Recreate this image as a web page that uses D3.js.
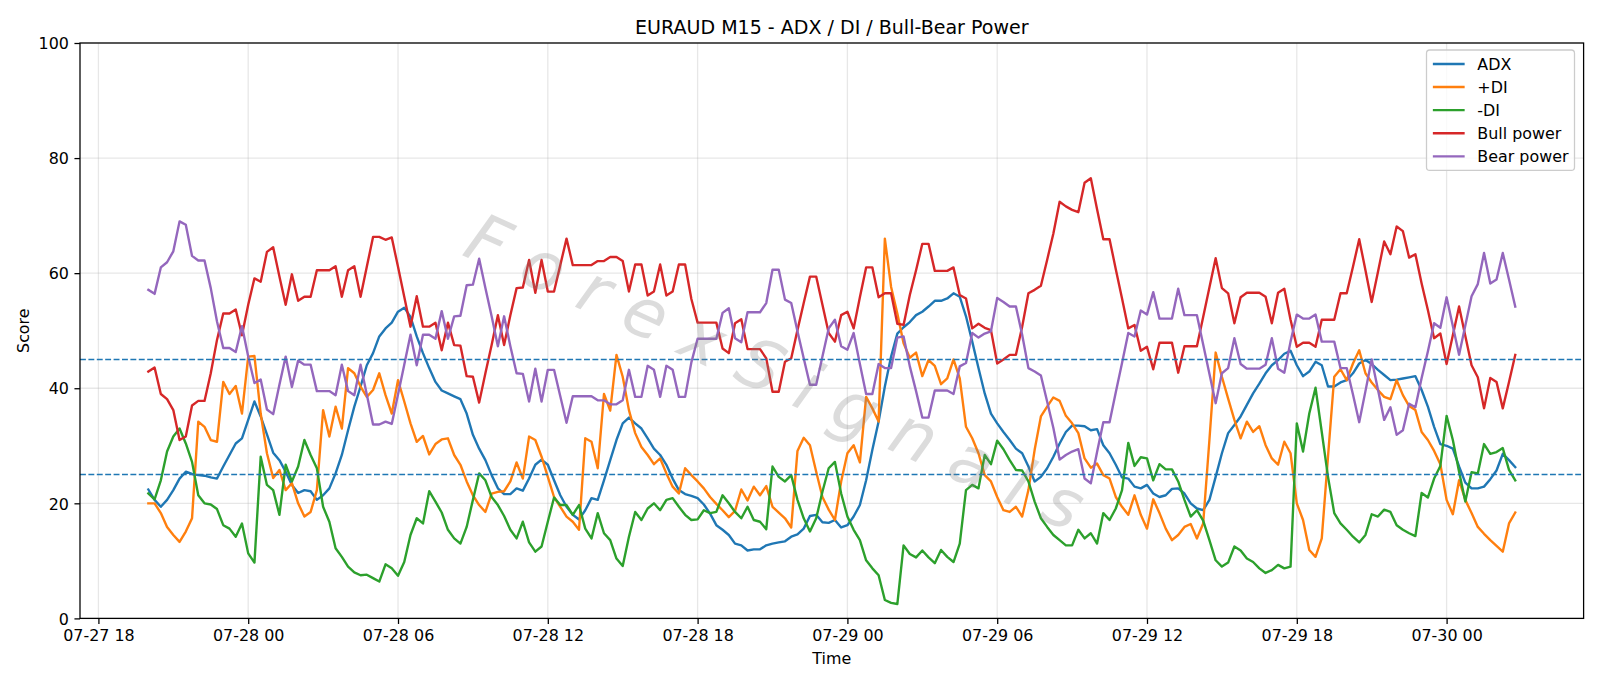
<!DOCTYPE html>
<html><head><meta charset="utf-8">
<script src="https://cdn.jsdelivr.net/npm/d3@7"></script>
<style>
body{margin:0;background:#fff}
svg{display:block}
text{font-family:"DejaVu Sans",sans-serif}
</style>
</head><body>
<svg id="chart" width="1600" height="686"></svg>
<script>
// ---------------- data ----------------
const titleText = "EURAUD M15 - ADX / DI / Bull-Bear Power";
const startTime = Date.UTC(2025, 6, 27, 20, 0);   // 07-27 20:00, 15-minute bars
const stepMinutes = 15;

const adx = [22.4,20.6,19.4,20.6,22.3,24.3,25.5,25.1,24.9,24.8,24.5,24.3,26.4,28.4,30.4,31.3,34.5,37.7,35.1,32.0,
28.8,27.5,25.5,23.2,21.8,22.3,22.1,20.6,21.4,22.6,25.2,28.4,32.7,36.8,40.3,44.0,46.1,49.0,50.4,51.4,
53.3,54.0,52.4,49.0,46.1,43.5,41.1,39.6,39.1,38.6,38.1,35.6,31.9,29.5,27.5,24.9,22.6,21.6,21.6,22.6,
22.2,24.3,26.7,27.6,26.7,24.0,21.4,19.4,18.0,17.2,18.8,20.9,20.6,24.0,27.5,31.0,33.9,34.9,33.9,33.0,
31.3,29.5,28.4,26.7,24.3,22.3,21.6,21.3,20.9,19.8,18.2,16.2,15.4,14.5,13.0,12.7,11.8,12.0,12.0,12.7,
13.0,13.2,13.4,14.2,14.6,15.6,17.8,18.0,16.7,16.6,17.1,15.8,16.2,17.7,19.7,24.0,29.3,34.2,40.3,45.5,
49.5,50.6,51.5,52.7,53.3,54.2,55.2,55.2,55.6,56.5,55.9,52.5,48.1,43.5,39.1,35.6,33.9,32.4,31.0,29.5,
28.7,26.4,23.8,24.6,26.1,28.1,30.4,32.4,33.5,33.5,33.4,32.7,32.9,30.1,28.7,26.7,24.5,24.3,22.9,22.6,
23.2,21.7,21.1,21.4,22.5,22.6,21.7,20.0,19.1,18.8,20.6,24.6,28.7,32.2,33.6,35.1,37.1,39.1,40.8,42.6,
44.0,44.9,46.0,46.5,44.0,42.1,42.9,44.6,44.0,40.3,40.3,41.0,41.4,42.6,44.3,44.9,44.2,43.2,42.3,41.4,
41.5,41.7,41.9,42.1,39.7,36.8,33.3,30.3,30.0,29.5,26.4,23.6,22.6,22.6,22.9,24.2,25.7,28.6,27.5,26.3];

const plusDI = [20.0,20.0,18.3,15.9,14.5,13.3,15.1,17.4,34.2,33.3,31.0,30.7,41.1,39.0,40.4,35.6,45.5,45.6,35.6,28.7,
24.4,25.8,22.3,23.5,20.0,17.7,18.5,22.3,36.2,31.6,36.8,33.0,43.5,42.6,40.3,38.5,39.7,42.6,38.8,35.6,
41.4,37.7,33.9,30.7,31.7,28.5,30.3,31.1,31.3,28.4,26.7,23.8,21.4,19.7,18.5,21.7,22.0,22.1,23.8,27.1,
24.3,31.6,31.0,28.1,24.6,21.1,19.4,17.7,16.8,15.4,31.3,30.7,26.1,39.0,36.1,45.8,42.0,36.2,32.2,29.8,
28.4,26.8,27.8,25.2,22.9,21.7,26.1,24.9,23.8,22.6,21.1,19.9,18.8,17.6,18.7,22.4,20.5,22.9,21.4,23.0,
19.4,18.4,17.4,15.8,29.1,31.4,30.1,25.5,21.1,18.9,17.1,23.8,28.7,30.1,27.1,38.5,36.5,34.2,66.0,57.6,
53.0,47.8,45.3,46.2,42.1,44.9,43.9,40.7,41.7,45.0,41.7,33.3,31.3,28.7,24.9,23.8,21.1,18.8,18.5,19.4,
17.7,22.3,29.3,35.1,36.8,38.4,37.8,35.2,33.9,32.2,27.8,26.2,26.9,24.9,24.3,21.1,19.4,18.0,21.4,18.0,
15.6,20.7,18.3,15.6,13.6,14.5,15.9,16.4,13.9,16.5,31.0,46.2,42.0,38.2,34.5,31.3,34.2,32.4,33.4,30.1,
27.8,26.7,30.7,28.7,20.0,17.1,11.9,10.7,13.9,28.1,42.0,43.3,41.4,44.3,46.6,42.6,41.0,39.7,38.5,38.1,
41.4,38.8,36.9,36.2,32.4,31.0,29.1,26.8,20.6,18.1,24.0,20.6,18.3,15.9,14.7,13.6,12.6,11.6,16.5,18.4];

const minusDI = [21.7,20.7,24.0,29.0,31.6,33.0,30.4,27.2,21.4,20.0,19.8,19.0,16.2,15.6,14.2,16.5,11.3,9.7,28.1,23.2,
22.3,18.0,26.7,23.8,26.4,31.0,28.4,26.1,19.4,16.8,12.2,10.7,9.0,8.0,7.5,7.6,7.0,6.4,9.4,8.7,
7.4,9.8,14.5,17.4,16.5,22.1,20.3,18.4,15.4,13.9,13.0,15.9,20.6,25.2,24.0,21.1,19.7,17.8,15.4,13.9,
16.8,13.2,11.6,12.5,16.8,21.0,19.7,19.7,18.0,19.7,15.6,13.9,18.3,14.8,13.6,10.4,9.1,14.2,18.5,17.1,
19.1,20.0,18.8,20.6,20.9,19.4,18.0,17.1,17.2,18.8,18.3,18.5,21.4,20.0,18.5,17.4,19.4,17.1,16.8,15.5,
26.4,24.6,23.8,24.9,20.6,17.4,15.1,17.4,22.0,26.1,27.2,21.7,17.7,15.4,13.6,10.1,8.7,7.5,3.2,2.7,
2.5,12.7,11.2,10.6,11.8,10.6,9.6,11.9,10.7,9.8,13.0,22.3,23.2,22.6,28.4,26.8,30.9,29.4,27.5,25.8,
25.7,23.8,20.3,17.4,15.9,14.5,13.6,12.7,12.7,15.4,13.9,14.8,13.0,18.3,17.1,19.1,22.3,30.5,26.5,28.0,
27.8,24.0,26.8,25.9,25.9,23.8,20.6,17.7,18.8,17.0,13.6,10.1,9.0,9.7,12.5,11.8,10.4,9.8,8.7,7.9,
8.4,9.3,8.7,9.0,33.9,29.0,35.6,40.1,32.4,24.6,18.3,16.5,15.4,14.2,13.2,14.5,18.1,17.7,18.9,18.5,
16.2,15.4,14.8,14.3,21.8,21.0,24.3,26.5,35.2,31.0,25.5,20.3,25.4,25.2,30.3,28.6,28.9,29.6,25.8,24.0];

const bullPower = [42.9,43.6,39.0,38.1,36.2,31.0,31.6,37.0,37.8,37.8,42.6,48.4,53.0,53.0,53.7,49.2,54.5,59.1,58.5,63.7,
64.5,59.4,54.5,59.8,55.2,55.9,55.9,60.5,60.5,60.5,61.2,55.9,60.5,61.2,55.9,61.1,66.3,66.3,65.8,66.2,
61.1,55.9,50.7,56.0,50.7,50.7,51.4,46.6,51.4,47.5,47.4,42.1,42.0,37.5,42.6,47.5,52.7,47.5,52.7,57.4,
57.5,62.3,56.6,62.3,56.8,56.8,61.4,66.0,61.4,61.4,61.4,61.4,62.1,62.1,62.8,62.8,62.1,56.8,61.5,61.5,
56.1,56.8,61.5,56.1,56.8,61.5,61.5,55.5,51.4,51.4,51.4,51.4,46.9,46.1,51.3,52.0,46.8,46.8,46.8,45.2,
39.4,39.4,44.6,45.2,50.1,54.8,59.4,59.4,54.5,49.6,48.1,52.7,53.3,50.4,55.8,61.0,61.0,55.8,56.5,56.5,
51.2,51.0,56.2,60.5,65.1,65.1,60.4,60.4,60.4,61.0,56.2,55.6,50.4,51.2,50.5,50.1,44.3,45.0,45.8,45.8,
50.7,56.5,57.1,57.8,62.3,66.9,72.4,71.6,71.0,70.6,75.7,76.5,71.1,65.9,65.9,60.7,55.6,50.4,51.0,46.5,
47.2,43.3,47.9,47.9,47.9,42.7,47.3,47.3,47.3,52.4,57.5,62.6,57.4,56.5,51.3,55.8,56.6,56.6,56.6,55.9,
51.3,56.6,57.3,51.9,47.2,47.9,47.9,47.2,51.9,51.9,51.9,56.5,56.5,61.1,65.9,60.5,55.0,60.2,65.5,63.3,
68.1,67.3,62.7,63.3,58.2,53.6,48.7,49.5,44.2,49.2,54.2,49.1,44.0,41.9,36.5,41.8,41.1,36.5,41.1,45.8];

const bearPower = [57.1,56.4,61.0,61.9,63.8,69.0,68.4,63.0,62.2,62.2,57.4,51.6,47.0,47.0,46.3,50.8,45.5,40.9,41.5,36.3,
35.5,40.6,45.5,40.2,44.8,44.1,44.1,39.5,39.5,39.5,38.8,44.1,39.5,38.8,44.1,38.9,33.7,33.7,34.2,33.8,
38.9,44.1,49.3,44.0,49.3,49.3,48.6,53.4,48.6,52.5,52.6,57.9,58.0,62.5,57.4,52.5,47.3,52.5,47.3,42.6,
42.5,37.7,43.4,37.7,43.2,43.2,38.6,34.0,38.6,38.6,38.6,38.6,37.9,37.9,37.2,37.2,37.9,43.2,38.5,38.5,
43.9,43.2,38.5,43.9,43.2,38.5,38.5,44.5,48.6,48.6,48.6,48.6,53.1,53.9,48.7,48.0,53.2,53.2,53.2,54.8,
60.6,60.6,55.4,54.8,49.9,45.2,40.6,40.6,45.5,50.4,51.9,47.3,46.7,49.6,44.2,39.0,39.0,44.2,43.5,43.5,
48.8,49.0,43.8,39.5,34.9,34.9,39.6,39.6,39.6,39.0,43.8,44.4,49.6,48.8,49.5,49.9,55.7,55.0,54.2,54.2,
49.3,43.5,42.9,42.2,37.7,33.1,27.6,28.4,29.0,29.4,24.3,23.5,28.9,34.1,34.1,39.3,44.4,49.6,49.0,53.5,
52.8,56.7,52.1,52.1,52.1,57.3,52.7,52.7,52.7,47.6,42.5,37.4,42.6,43.5,48.7,44.2,43.4,43.4,43.4,44.1,
48.7,43.4,42.7,48.1,52.8,52.1,52.1,52.8,48.1,48.1,48.1,43.5,43.5,38.9,34.1,39.5,45.0,39.8,34.5,36.7,
31.9,32.7,37.3,36.7,41.8,46.4,51.3,50.5,55.8,50.8,45.8,50.9,56.0,58.1,63.5,58.2,58.9,63.5,58.9,54.2];

const seriesNames  = ["ADX", "+DI", "-DI", "Bull power", "Bear power"];
const seriesValues = [adx, plusDI, minusDI, bullPower, bearPower];
const seriesColors = ["#1f77b4", "#ff7f0e", "#2ca02c", "#d62728", "#9467bd"];
const yTickValues  = [0, 20, 40, 60, 80, 100];
const refLevels    = [25, 45];
const watermarkText = "ForexSignals";

// ---------------- layout ----------------
const M = {left: 80, right: 1583.6, top: 43, bottom: 618.4};
const FS = 15.9;   // 10pt
const svg = d3.select("#chart");

const n = adx.length;
const times = d3.range(n).map(i => new Date(startTime + i * stepMinutes * 60000));
const t0 = +times[0], t1 = +times[n - 1];
const padT = (t1 - t0) * 0.05;

const x = d3.scaleUtc().domain([new Date(t0 - padT), new Date(t1 + padT)]).range([M.left, M.right]);
const y = d3.scaleLinear().domain([0, 100]).range([M.bottom, M.top]);

const xTicks = d3.utcHour.every(6).range(x.domain()[0], x.domain()[1]);

// grid
const grid = svg.append("g").attr("stroke", "#b0b0b0").attr("stroke-opacity", 0.3).attr("stroke-width", 1.27);
grid.selectAll("line.v").data(xTicks).join("line")
  .attr("x1", d => x(d)).attr("x2", d => x(d)).attr("y1", M.top).attr("y2", M.bottom);
grid.selectAll("line.h").data(yTickValues).join("line")
  .attr("x1", M.left).attr("x2", M.right).attr("y1", d => y(d)).attr("y2", d => y(d));

// series lines
const plot = svg.append("g");
seriesValues.forEach((vals, k) => {
  const line = d3.line().x((d, i) => x(times[i])).y(d => y(d));
  plot.append("path").datum(vals)
    .attr("d", line)
    .attr("fill", "none")
    .attr("stroke", seriesColors[k])
    .attr("stroke-width", 2.38)
    .attr("stroke-linejoin", "round")
    .attr("stroke-linecap", "square");
});

// reference dashed lines
svg.append("g").selectAll("line").data(refLevels).join("line")
  .attr("x1", M.left).attr("x2", M.right)
  .attr("y1", d => y(d)).attr("y2", d => y(d))
  .attr("stroke", "#1f77b4").attr("stroke-width", 1.59)
  .attr("stroke-dasharray", "5.9,2.5");

// watermark
svg.append("text")
  .attr("transform", "translate(775,372) rotate(24.5)")
  .attr("text-anchor", "middle")
  .attr("dominant-baseline", "central")
  .attr("font-size", 68)
  .attr("font-style", "italic")
  .attr("fill", "#808080")
  .attr("fill-opacity", 0.28)
  .attr("textLength", 670)
  .attr("lengthAdjust", "spacing")
  .text(watermarkText);

// axes frame
svg.append("rect")
  .attr("x", M.left).attr("y", M.top)
  .attr("width", M.right - M.left).attr("height", M.bottom - M.top)
  .attr("fill", "none").attr("stroke", "#000").attr("stroke-width", 1.27);

// x axis
const gx = svg.append("g").attr("transform", `translate(0,${M.bottom})`)
  .call(d3.axisBottom(x).tickValues(xTicks).tickFormat(d3.utcFormat("%m-%d %H"))
        .tickSize(5.56).tickPadding(5.56).tickSizeOuter(0));
gx.select(".domain").remove();
gx.selectAll("line").attr("stroke", "#000").attr("stroke-width", 1.27);
gx.selectAll("text").attr("font-size", FS).attr("font-family", "DejaVu Sans").attr("fill", "#000");

// y axis
const gy = svg.append("g").attr("transform", `translate(${M.left},0)`)
  .call(d3.axisLeft(y).tickValues(yTickValues).tickSize(5.56).tickPadding(5.56).tickSizeOuter(0));
gy.select(".domain").remove();
gy.selectAll("line").attr("stroke", "#000").attr("stroke-width", 1.27);
gy.selectAll("text").attr("font-size", FS).attr("font-family", "DejaVu Sans").attr("fill", "#000").attr("dy", "0.36em");

// labels
svg.append("text").attr("x", (M.left + M.right) / 2).attr("y", 33.5)
  .attr("text-anchor", "middle").attr("font-size", 19.05).attr("fill", "#000").text(titleText);
svg.append("text").attr("x", (M.left + M.right) / 2).attr("y", 663.5)
  .attr("text-anchor", "middle").attr("font-size", FS).attr("fill", "#000").text("Time");
svg.append("text").attr("transform", `translate(29,${(M.top + M.bottom) / 2}) rotate(-90)`)
  .attr("text-anchor", "middle").attr("font-size", FS).attr("fill", "#000").text("Score");

// legend
const lg = {x: 1426.5, y: 50, w: 148, h: 120.4, pad: 6.36, row: 23.1, handle: 31.8, gap: 12.7};
const legend = svg.append("g");
legend.append("rect")
  .attr("x", lg.x).attr("y", lg.y).attr("width", lg.w).attr("height", lg.h)
  .attr("rx", 3.2).attr("ry", 3.2)
  .attr("fill", "#fff").attr("fill-opacity", 0.8)
  .attr("stroke", "#cccccc").attr("stroke-width", 1.27);
seriesNames.forEach((name, k) => {
  const cy = lg.y + lg.pad + 7.6 + k * lg.row;
  legend.append("line")
    .attr("x1", lg.x + lg.pad).attr("x2", lg.x + lg.pad + lg.handle)
    .attr("y1", cy).attr("y2", cy)
    .attr("stroke", seriesColors[k]).attr("stroke-width", 2.38);
  legend.append("text")
    .attr("x", lg.x + lg.pad + lg.handle + lg.gap).attr("y", cy).attr("dy", "0.36em")
    .attr("font-size", FS).attr("fill", "#000").text(name);
});
</script>
</body></html>
